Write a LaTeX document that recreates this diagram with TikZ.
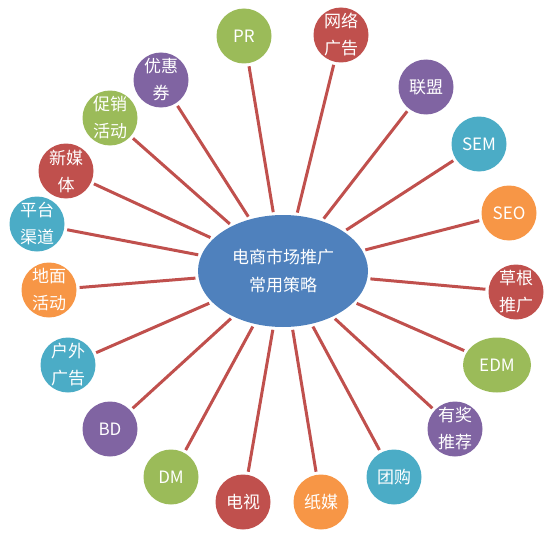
\documentclass[tikz,border=0pt]{standalone}
\usepackage{fontspec}
\setmainfont{Noto Sans CJK SC}
\usetikzlibrary{shapes.geometric}
\definecolor{oblue}{HTML}{4F81BD}
\definecolor{ored}{HTML}{C0504D}
\definecolor{ogreen}{HTML}{9BBB59}
\definecolor{opurple}{HTML}{8064A2}
\definecolor{oaqua}{HTML}{4BACC6}
\definecolor{oorange}{HTML}{F79646}
\begin{document}
\begin{tikzpicture}[x=1pt, y=-1pt,
  ball/.style={circle, fill=#1, text=white, minimum size=55pt, inner sep=0pt, align=center, font=\fontsize{17}{27}\selectfont},
  spoke/.style={draw=ored, line width=3pt, shorten <=3pt, shorten >=3pt}]
\useasboundingbox (0,0) rectangle (554,535);
\node[ellipse, fill=oblue, text=white, minimum width=170pt, minimum height=112pt, inner sep=0pt, align=center, font=\fontsize{17}{28}\selectfont] (P_0) at (283,271) {电商市场推广\\常用策略};
\node[ball=ogreen] (P_1) at (244,36) {PR};
\draw[spoke] (P_0) -- (P_1);
\node[ball=ored] (P_2) at (341,35) {网络\\广告};
\draw[spoke] (P_0) -- (P_2);
\node[ball=opurple] (P_3) at (426,87) {联盟};
\draw[spoke] (P_0) -- (P_3);
\node[ball=oaqua] (P_4) at (479,144) {SEM};
\draw[spoke] (P_0) -- (P_4);
\node[ball=oorange] (P_5) at (509,213) {SEO};
\draw[spoke] (P_0) -- (P_5);
\node[ball=ored] (P_6) at (516,292) {草根\\推广};
\draw[spoke] (P_0) -- (P_6);
\node[ball=ogreen, ellipse, minimum width=68pt, minimum height=55pt] (P_7) at (497,365) {EDM};
\draw[spoke] (P_0) -- (P_7);
\node[ball=opurple] (P_8) at (455,429) {有奖\\推荐};
\draw[spoke] (P_0) -- (P_8);
\node[ball=oaqua] (P_9) at (394,477) {团购};
\draw[spoke] (P_0) -- (P_9);
\node[ball=oorange] (P_10) at (321,502) {纸媒};
\draw[spoke] (P_0) -- (P_10);
\node[ball=ored] (P_11) at (243,502) {电视};
\draw[spoke] (P_0) -- (P_11);
\node[ball=ogreen] (P_12) at (171,477) {DM};
\draw[spoke] (P_0) -- (P_12);
\node[ball=opurple] (P_13) at (110,429) {BD};
\draw[spoke] (P_0) -- (P_13);
\node[ball=oaqua] (P_14) at (68,365) {户外\\广告};
\draw[spoke] (P_0) -- (P_14);
\node[ball=oorange] (P_15) at (49,290) {地面\\活动};
\draw[spoke] (P_0) -- (P_15);
\node[ball=oaqua] (P_16) at (37,224) {平台\\渠道};
\draw[spoke] (P_0) -- (P_16);
\node[ball=ored] (P_17) at (66,171) {新媒\\体};
\draw[spoke] (P_0) -- (P_17);
\node[ball=ogreen] (P_18) at (110,118) {促销\\活动};
\draw[spoke] (P_0) -- (P_18);
\node[ball=opurple] (P_19) at (161,80) {优惠\\券};
\draw[spoke] (P_0) -- (P_19);
\end{tikzpicture}
\end{document}
